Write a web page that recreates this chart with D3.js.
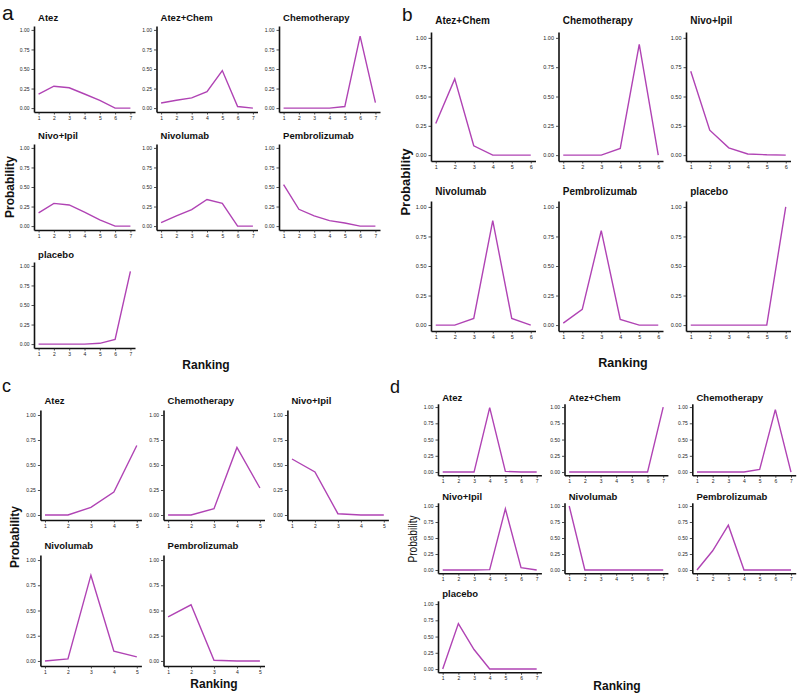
<!DOCTYPE html>
<html>
<head>
<meta charset="utf-8">
<script src="https://cdn.jsdelivr.net/npm/d3@7"></script>
<style>
  html, body { margin: 0; padding: 0; background: #fff; }
  svg { display: block; font-family: "Liberation Sans", Arial, sans-serif; }
</style>
</head>
<body>
<svg id="chart" width="800" height="694"></svg>
<script>
// ---------- DATA ----------
const panelLetters = ["a", "b", "c", "d"];
const xAxisTitle = "Ranking";
const yAxisTitle = "Probability";
const yTickValues = [0, 0.25, 0.5, 0.75, 1];
const yTickLabels = ["0.00", "0.25", "0.50", "0.75", "1.00"];

// Panel a (7 ranks)
const catsA = ["Atez", "Atez+Chem", "Chemotherapy", "Nivo+Ipil", "Nivolumab", "Pembrolizumab", "placebo"];
const ranksA = [1, 2, 3, 4, 5, 6, 7];
const valsA = [
  [0.18, 0.28, 0.26, 0.18, 0.10, 0.00, 0.00],
  [0.065, 0.10, 0.13, 0.21, 0.48, 0.02, 0.00],
  [0.00, 0.00, 0.00, 0.00, 0.02, 0.92, 0.07],
  [0.17, 0.29, 0.27, 0.18, 0.08, 0.00, 0.00],
  [0.045, 0.13, 0.21, 0.34, 0.29, 0.00, 0.00],
  [0.53, 0.215, 0.13, 0.07, 0.04, 0.00, 0.00],
  [0.00, 0.00, 0.00, 0.00, 0.01, 0.06, 0.93]
];

// Panel b (6 ranks)
const catsB = ["Atez+Chem", "Chemotherapy", "Nivo+Ipil", "Nivolumab", "Pembrolizumab", "placebo"];
const ranksB = [1, 2, 3, 4, 5, 6];
const valsB = [
  [0.27, 0.65, 0.08, 0.00, 0.00, 0.00],
  [0.00, 0.00, 0.00, 0.057, 0.945, 0.00],
  [0.715, 0.213, 0.062, 0.01, 0.003, 0.00],
  [0.00, 0.00, 0.056, 0.884, 0.056, 0.00],
  [0.017, 0.133, 0.80, 0.048, 0.00, 0.00],
  [0.00, 0.00, 0.00, 0.00, 0.00, 1.00]
];

// Panel c (5 ranks)
const catsC = ["Atez", "Chemotherapy", "Nivo+Ipil", "Nivolumab", "Pembrolizumab"];
const ranksC = [1, 2, 3, 4, 5];
const valsC = [
  [0.00, 0.00, 0.076, 0.23, 0.695],
  [0.00, 0.00, 0.063, 0.675, 0.27],
  [0.56, 0.43, 0.013, 0.00, 0.00],
  [0.00, 0.02, 0.85, 0.096, 0.04],
  [0.437, 0.556, 0.007, 0.00, 0.00]
];

// Panel d (7 ranks)
const catsD = ["Atez", "Atez+Chem", "Chemotherapy", "Nivo+Ipil", "Nivolumab", "Pembrolizumab", "placebo"];
const ranksD = [1, 2, 3, 4, 5, 6, 7];
const valsD = [
  [0.00, 0.00, 0.00, 0.99, 0.01, 0.00, 0.00],
  [0.00, 0.00, 0.00, 0.00, 0.00, 0.00, 1.00],
  [0.00, 0.00, 0.00, 0.00, 0.04, 0.96, 0.00],
  [0.00, 0.00, 0.00, 0.005, 0.955, 0.036, 0.00],
  [1.00, 0.00, 0.00, 0.00, 0.00, 0.00, 0.00],
  [0.00, 0.30, 0.70, 0.00, 0.00, 0.00, 0.00],
  [0.00, 0.70, 0.30, 0.00, 0.00, 0.00, 0.00]
];

// ---------- LAYOUT ----------
const lineColor = "#b043b4";
const layouts = [
  { cats: catsA, ranks: ranksA, vals: valsA,
    cols: [34, 156.5, 279], width: 101,
    rows: [{top: 26, bottom: 112, title: 21}, {top: 144, bottom: 230, title: 139}, {top: 262, bottom: 348, title: 258}],
    letter: {x: 2, y: 20, size: 21},
    xt: {x: 206, y: 369, size: 12},
    yt: {x: 10, y: 187, size: 12, bold: true},
    tickFont: 5, titleFont: 9.5 },
  { cats: catsB, ranks: ranksB, vals: valsB,
    cols: [431, 558.5, 686], width: 104.5,
    rows: [{top: 32, bottom: 161, title: 24}, {top: 201, bottom: 331, title: 195}],
    letter: {x: 402, y: 21, size: 19},
    xt: {x: 623, y: 367, size: 12.5},
    yt: {x: 405, y: 182, size: 13, bold: true},
    tickFont: 5.5, titleFont: 10 },
  { cats: catsC, ranks: ranksC, vals: valsC,
    cols: [40.4, 163.5, 287.4], width: 101,
    rows: [{top: 410, bottom: 520, title: 404}, {top: 555, bottom: 666, title: 549}],
    letter: {x: 2, y: 392, size: 18},
    xt: {x: 214, y: 688, size: 12},
    yt: {x: 15, y: 537, size: 12, bold: true},
    tickFont: 5, titleFont: 9.5 },
  { cats: catsD, ranks: ranksD, vals: valsD,
    cols: [438, 564.5, 692.3], width: 103.4,
    rows: [{top: 403.8, bottom: 475.3, title: 401}, {top: 502.8, bottom: 573.2, title: 500}, {top: 600.8, bottom: 672.3, title: 597}],
    letter: {x: 390, y: 393, size: 18},
    xt: {x: 617, y: 690, size: 12},
    yt: {x: 412, y: 539, size: 13, bold: false, len: 47},
    tickFont: 5, titleFont: 9.5 }
];

// ---------- DRAW ----------
const svg = d3.select("#chart");

layouts.forEach((L, pi) => {
  const g = svg.append("g");
  const n = L.ranks.length;
  const pad = (n - 1) * 0.05;

  L.cats.forEach((cat, i) => {
    const col = i % 3, row = Math.floor(i / 3);
    const x0 = L.cols[col];
    const R = L.rows[row];
    const x = d3.scaleLinear().domain([1 - pad, n + pad]).range([x0, x0 + L.width]);
    const y = d3.scaleLinear().domain([-0.05, 1.05]).range([R.bottom, R.top]);
    const sg = g.append("g");

    // axes
    const ax = sg.append("g").attr("transform", `translate(0,${R.bottom})`)
      .call(d3.axisBottom(x).tickValues(L.ranks).tickFormat(d3.format("d"))
        .tickSizeInner(2.5).tickSizeOuter(0).tickPadding(1.5));
    const ay = sg.append("g").attr("transform", `translate(${x0},0)`)
      .call(d3.axisLeft(y).tickValues(yTickValues).tickFormat((d, k) => yTickLabels[k])
        .tickSizeInner(2.5).tickSizeOuter(0).tickPadding(2));
    [ax, ay].forEach(a => {
      a.select(".domain").attr("stroke", "#111").attr("stroke-width", 1.6);
      a.selectAll(".tick line").attr("stroke", "#222").attr("stroke-width", 0.8);
      a.selectAll(".tick text").attr("fill", "#222")
        .style("font-size", L.tickFont + "px").style("font-family", "'Liberation Sans', Arial, sans-serif");
    });

    // title
    sg.append("text").attr("x", x(1) - 0.5).attr("y", R.title)
      .text(cat).attr("font-size", L.titleFont).attr("font-weight", "bold").attr("fill", "#111");

    // line
    const line = d3.line().x((d, k) => x(L.ranks[k])).y(d => y(d));
    sg.append("path").datum(L.vals[i]).attr("d", line)
      .attr("fill", "none").attr("stroke", lineColor).attr("stroke-width", 1.4)
      .attr("stroke-linejoin", "miter");
  });

  // panel letter
  g.append("text").attr("x", L.letter.x).attr("y", L.letter.y)
    .text(panelLetters[pi]).attr("font-size", L.letter.size).attr("fill", "#111");

  // x title
  g.append("text").attr("x", L.xt.x).attr("y", L.xt.y).attr("text-anchor", "middle")
    .text(xAxisTitle).attr("font-size", L.xt.size).attr("font-weight", "bold").attr("fill", "#111");

  // y title
  const yt = g.append("text")
    .attr("transform", `translate(${L.yt.x},${L.yt.y}) rotate(-90)`)
    .attr("text-anchor", "middle").attr("dy", "0.35em")
    .text(yAxisTitle).attr("font-size", L.yt.size)
    .attr("font-weight", L.yt.bold ? "bold" : "normal").attr("fill", "#111");
  if (L.yt.len) yt.attr("textLength", L.yt.len).attr("lengthAdjust", "spacingAndGlyphs");
});
</script>
</body>
</html>
